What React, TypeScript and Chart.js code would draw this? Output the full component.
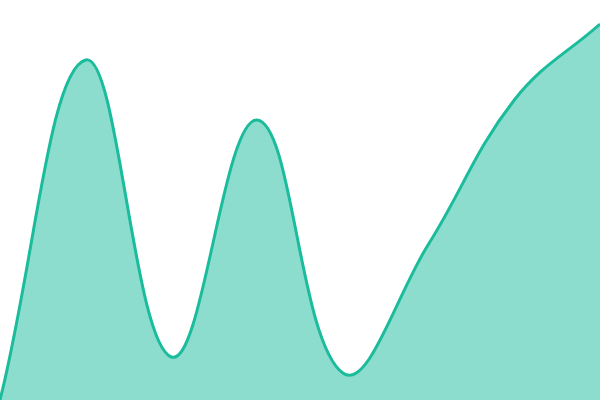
import { useEffect, useRef } from "react";
import { Chart, registerables } from "chart.js";

Chart.register(...registerables);

// eight evenly spaced samples, no labels shown
const LABELS = ["1", "2", "3", "4", "5", "6", "7", "8"];
const VALUES = [0, 85, 10.75, 70, 6.75, 39, 75, 94];

const LINE_COLOR = "#1abc9c";
const FILL_COLOR = "rgba(26, 188, 156, 0.5)";

export default function App() {
  const canvasRef = useRef<HTMLCanvasElement>(null);

  useEffect(() => {
    document.body.style.margin = "0";
    const canvas = canvasRef.current;
    if (!canvas) return;

    const chart = new Chart(canvas, {
      type: "line",
      data: {
        labels: LABELS,
        datasets: [
          {
            data: VALUES,
            borderColor: LINE_COLOR,
            backgroundColor: FILL_COLOR,
            borderWidth: 3,
            fill: "origin",
            tension: 0.4,
            pointRadius: 0,
          },
        ],
      },
      options: {
        animation: false,
        responsive: true,
        maintainAspectRatio: false,
        layout: { padding: 0 },
        plugins: { legend: { display: false }, tooltip: { enabled: false } },
        scales: {
          x: { display: false },
          y: { display: false, min: 0, max: 100 },
        },
      },
    });

    return () => chart.destroy();
  }, []);

  return (
    <div style={{ width: 600, height: 400, position: "relative" }}>
      <canvas ref={canvasRef} />
    </div>
  );
}
